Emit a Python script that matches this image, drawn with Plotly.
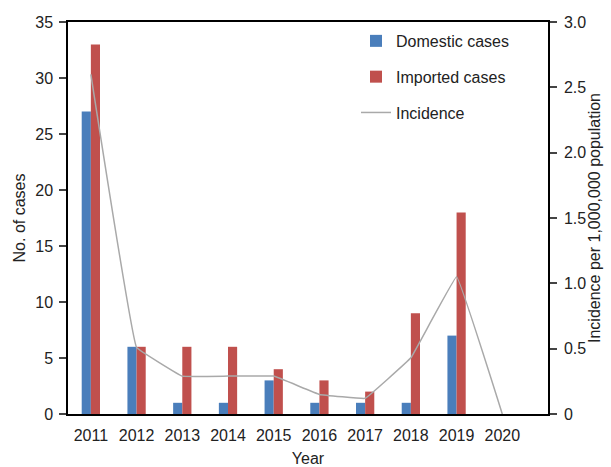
import plotly.graph_objects as go

years = ["2011", "2012", "2013", "2014", "2015", "2016", "2017", "2018", "2019", "2020"]
domestic = [27, 6, 1, 1, 3, 1, 1, 1, 7, 0]
imported = [33, 6, 6, 6, 4, 3, 2, 9, 18, 0]
incidence = [2.6, 0.51, 0.29, 0.29, 0.29, 0.15, 0.12, 0.43, 1.05, 0.0]

FONT = "Liberation Sans, Arial, sans-serif"

fig = go.Figure()
fig.add_trace(go.Bar(x=years, y=domestic, name="Domestic cases",
                     marker=dict(color="#4a7ebb", line=dict(width=0)),
                     legendgroup="a"))
fig.add_trace(go.Bar(x=years, y=imported, name="Imported cases",
                     marker=dict(color="#c0504d", line=dict(width=0)),
                     legendgroup="b"))
fig.add_trace(go.Scatter(x=years, y=incidence, name="Incidence", mode="lines",
                         line=dict(color="#a9a9a9", width=1.5, shape="spline", smoothing=0.15),
                         yaxis="y2", legendgroup="c"))

fig.update_layout(
    width=611, height=467,
    margin=dict(l=68, r=63, t=22, b=53),
    paper_bgcolor="white", plot_bgcolor="white",
    font=dict(family=FONT, size=16, color="#222"),
    barmode="group", bargap=0.6, bargroupgap=0,
    showlegend=True,
    legend=dict(x=0.6, y=0.995, xanchor="left", yanchor="top",
                bgcolor="rgba(0,0,0,0)", font=dict(size=16),
                tracegroupgap=12, traceorder="grouped"),
    xaxis=dict(type="category", range=[-0.5, 10], showline=True, linecolor="black",
               linewidth=1.5, mirror=True, ticks="", showgrid=False,
               ticklabelstandoff=6, automargin=False,
               title=dict(text="Year", standoff=12, font=dict(size=16)),
               tickfont=dict(size=16)),
    yaxis=dict(range=[0, 35], dtick=5, showline=True, linecolor="black", linewidth=1.5,
               ticks="outside", ticklen=7, tickwidth=1.5, showgrid=False, zeroline=False,
               ticklabelstandoff=3, automargin=False,
               title=dict(text="No. of cases", standoff=6, font=dict(size=16)),
               tickfont=dict(size=16)),
    yaxis2=dict(range=[0, 3.0], tickvals=[0, 0.5, 1.0, 1.5, 2.0, 2.5, 3.0],
                ticktext=["0", "0.5", "1.0", "1.5", "2.0", "2.5", "3.0"],
                overlaying="y", side="right", showline=True, linecolor="black",
                linewidth=1.5, ticks="outside", ticklen=7, tickwidth=1.5,
                showgrid=False, zeroline=False, ticklabelstandoff=4, automargin=False,
                title=dict(text="Incidence per 1,000,000 population", standoff=4,
                           font=dict(size=16)),
                tickfont=dict(size=16)),
)

fig.write_html("out.html")
